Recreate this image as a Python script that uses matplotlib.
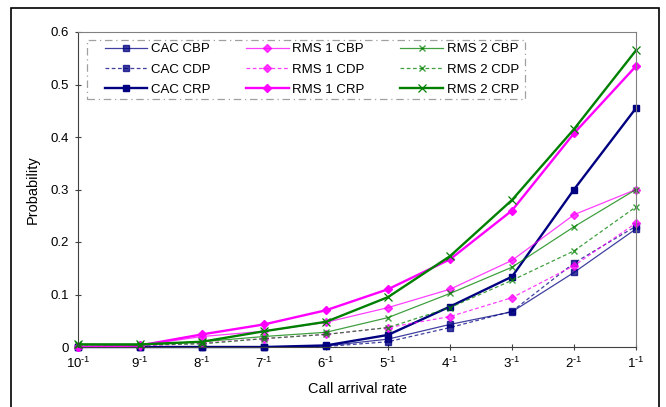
import matplotlib
matplotlib.use("Agg")
import matplotlib.pyplot as plt
from matplotlib.patches import Rectangle

plt.rcParams['font.family'] = ['Liberation Sans', 'DejaVu Sans']
plt.rcParams['mathtext.fontset'] = 'custom'
plt.rcParams['mathtext.rm'] = 'Liberation Sans'

rates = ["10", "9", "8", "7", "6", "5", "4", "3", "2", "1"]

cac_cbp = [0, 0, 0, 0, 0.002, 0.015, 0.043, 0.067, 0.142, 0.225]
cac_cdp = [0, 0, 0, 0, 0.001, 0.010, 0.037, 0.068, 0.160, 0.230]
cac_crp = [0, 0, 0, 0, 0.003, 0.023, 0.077, 0.134, 0.300, 0.455]
rms1_cbp = [0, 0.003, 0.020, 0.030, 0.047, 0.075, 0.110, 0.165, 0.252, 0.300]
rms1_cdp = [0, 0.002, 0.007, 0.016, 0.024, 0.037, 0.058, 0.094, 0.155, 0.236]
rms1_crp = [0, 0.003, 0.024, 0.043, 0.070, 0.110, 0.167, 0.260, 0.407, 0.535]
rms2_cbp = [0.005, 0.004, 0.010, 0.020, 0.028, 0.056, 0.102, 0.152, 0.229, 0.300]
rms2_cdp = [0.004, 0.004, 0.006, 0.016, 0.024, 0.037, 0.075, 0.127, 0.183, 0.267]
rms2_crp = [0.005, 0.005, 0.010, 0.030, 0.048, 0.095, 0.173, 0.280, 0.415, 0.565]

navy = "#000080"
mag = "#FF00FF"
grn = "#008000"

fig = plt.figure(figsize=(6.66, 4.07), dpi=100)
ax = fig.add_axes([78 / 666, 60 / 407, 558 / 666, 315 / 407])
x = list(range(len(rates)))

dash = (0, (3, 2))
thin = dict(lw=0.9, alpha=0.75, clip_on=False)
thick = dict(lw=1.7, clip_on=False)
ax.plot(x, cac_cbp, color=navy, marker='s', ms=4.5, label="CAC CBP", **thin)
ax.plot(x, cac_cdp, color=navy, ls=dash, marker='s', ms=4.5, label="CAC CDP", **thin)
ax.plot(x, cac_crp, color=navy, marker='s', ms=5, label="CAC CRP", **thick)
ax.plot(x, rms1_cbp, color=mag, marker='D', ms=4, label="RMS 1 CBP", **thin)
ax.plot(x, rms1_cdp, color=mag, ls=dash, marker='D', ms=4, label="RMS 1 CDP", **thin)
ax.plot(x, rms1_crp, color=mag, marker='D', ms=4.5, label="RMS 1 CRP", **thick)
ax.plot(x, rms2_cbp, color=grn, marker='x', ms=4.5, label="RMS 2 CBP", **thin)
ax.plot(x, rms2_cdp, color=grn, ls=dash, marker='x', ms=4.5, label="RMS 2 CDP", **thin)
ax.plot(x, rms2_crp, color=grn, marker='x', ms=6, mew=0.9, label="RMS 2 CRP", **thick)

ax.set_xlim(0, 9)
ax.set_ylim(0, 0.6)
ax.set_xticks(x)
ax.set_xticklabels([r"%s$^{\mathregular{\text{-}1}}$" % r for r in rates], fontsize=9.5)
ax.set_yticks([0, 0.1, 0.2, 0.3, 0.4, 0.5, 0.6])
ax.set_yticklabels(["0", "0.1", "0.2", "0.3", "0.4", "0.5", "0.6"], fontsize=9.5)
ax.tick_params(direction='inout', length=5, width=0.8, color="#404040", pad=4)
ax.set_xlabel("Call arrival rate", fontsize=10.5, labelpad=8)
ax.set_ylabel("Probability", fontsize=10.5, labelpad=8)

ax.spines['left'].set_color("#404040")
ax.spines['bottom'].set_color("#404040")
ax.spines['top'].set_color("#808080")
ax.spines['right'].set_color("#808080")

leg = ax.legend(ncol=3, loc="upper left", bbox_to_anchor=(105 / 666, (407 - 43) / 407),
                bbox_transform=fig.transFigure, fontsize=9.5, frameon=False,
                handlelength=3.2, columnspacing=2.7, handletextpad=0.3,
                labelspacing=0.62, borderpad=0, borderaxespad=0)

ax.add_patch(Rectangle((87 / 666, (407 - 99) / 407), 438 / 666, 59 / 407,
                       transform=fig.transFigure, fill=False, edgecolor="#a0a0a0",
                       lw=0.9, ls=(0, (6, 3, 1, 3)), clip_on=False, zorder=5))

fig.patches.append(Rectangle((11 / 666, -0.02), 648 / 666, 1.0 - 8 / 407 + 0.02,
                             transform=fig.transFigure, fill=False,
                             edgecolor="black", lw=1.2))

fig.savefig("out.png", dpi=100)
